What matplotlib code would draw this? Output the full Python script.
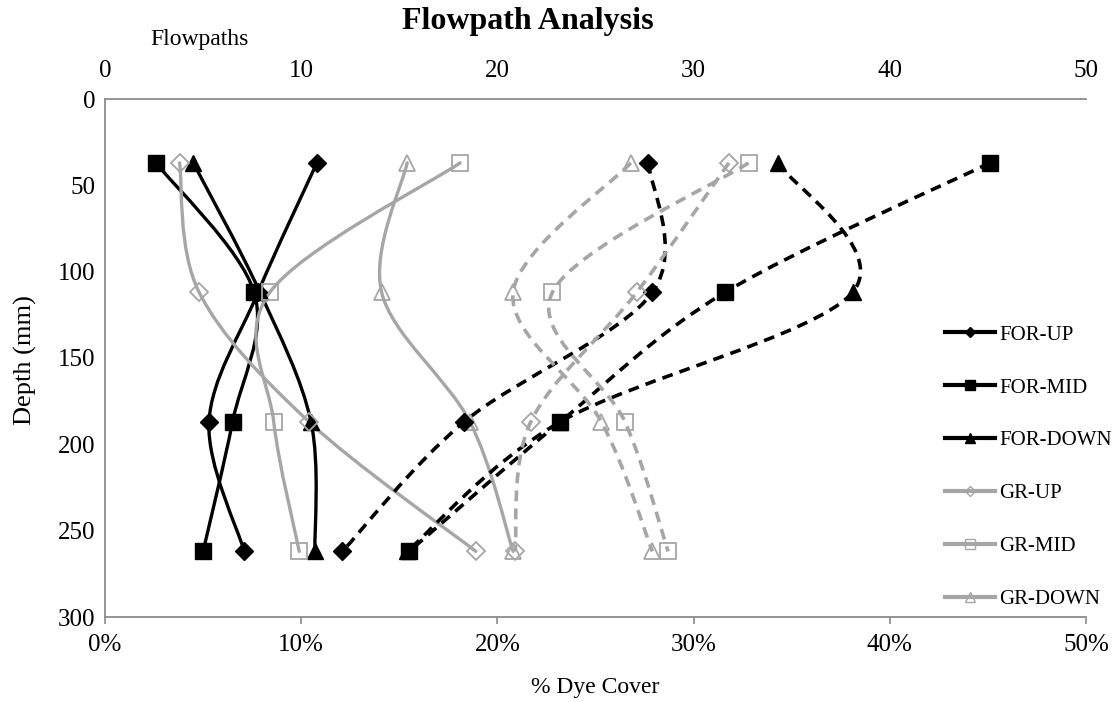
import matplotlib
matplotlib.use("Agg")
import matplotlib.pyplot as plt
from matplotlib.path import Path
from matplotlib.patches import PathPatch
from matplotlib.lines import Line2D
from matplotlib.ticker import FuncFormatter

# --- data ---
depth = [37, 112, 187, 262]

# flowpaths (solid lines, top axis)
fp_for_up = [10.8, 7.8, 5.3, 7.1]
fp_for_mid = [2.6, 7.6, 6.5, 5.0]
fp_for_down = [4.5, 7.9, 10.5, 10.7]
fp_gr_up = [3.8, 4.8, 10.4, 18.9]
fp_gr_mid = [18.1, 8.4, 8.6, 9.9]
fp_gr_down = [15.4, 14.1, 18.6, 20.8]

# % dye cover (dashed lines, bottom axis)
dc_for_up = [27.7, 27.9, 18.3, 12.1]
dc_for_mid = [45.1, 31.6, 23.2, 15.5]
dc_for_down = [34.3, 38.1, 23.2, 15.4]
dc_gr_up = [31.8, 27.1, 21.7, 20.9]
dc_gr_mid = [32.8, 22.8, 26.5, 28.7]
dc_gr_down = [26.8, 20.8, 25.3, 27.9]

labels = ["FOR-UP", "FOR-MID", "FOR-DOWN", "GR-UP", "GR-MID", "GR-DOWN"]
x_ticks = [0, 10, 20, 30, 40, 50]
y_ticks = [0, 50, 100, 150, 200, 250, 300]

BLACK = "#000000"
GRAY = "#a6a6a6"

plt.rcParams['font.family'] = ['Liberation Serif', 'DejaVu Serif']


def smooth_path(xs, ys):
    # Excel-like smoothed line (cubic bezier through the points)
    pts = list(zip(xs, ys))
    n = len(pts)
    verts = [pts[0]]
    codes = [Path.MOVETO]
    for i in range(n - 1):
        p0 = pts[i - 1] if i > 0 else pts[i]
        p1 = pts[i]
        p2 = pts[i + 1]
        p3 = pts[i + 2] if i + 2 < n else pts[i + 1]
        c1 = (p1[0] + (p2[0] - p0[0]) / 6, p1[1] + (p2[1] - p0[1]) / 6)
        c2 = (p2[0] - (p3[0] - p1[0]) / 6, p2[1] - (p3[1] - p1[1]) / 6)
        verts += [c1, c2, p2]
        codes += [Path.CURVE4] * 3
    return Path(verts, codes)


styles = [
    dict(color=BLACK, marker="D", ms=9, mfc=BLACK, mec=BLACK, mew=1),
    dict(color=BLACK, marker="s", ms=11, mfc=BLACK, mec=BLACK, mew=1),
    dict(color=BLACK, marker="^", ms=12, mfc=BLACK, mec=BLACK, mew=1),
    dict(color=GRAY, marker="D", ms=9, mfc="none", mec=GRAY, mew=1.3),
    dict(color=GRAY, marker="s", ms=11, mfc="none", mec=GRAY, mew=1.3),
    dict(color=GRAY, marker="^", ms=12, mfc="none", mec=GRAY, mew=1.3),
]

fig = plt.figure(figsize=(11.15, 7.02), dpi=100)
ax = fig.add_axes([105 / 1115, 1 - 617 / 702, 981 / 1115, 518 / 702])

solid = [fp_for_up, fp_for_mid, fp_for_down, fp_gr_up, fp_gr_mid, fp_gr_down]
dashed = [dc_for_up, dc_for_mid, dc_for_down, dc_gr_up, dc_gr_mid, dc_gr_down]

for vals, st in zip(solid, styles):
    ax.add_patch(PathPatch(smooth_path(vals, depth), fill=False, edgecolor=st["color"],
                           lw=2.4, zorder=2, capstyle="round", joinstyle="round"))
    ax.plot(vals, depth, ls="none", marker=st["marker"], ms=st["ms"], mfc=st["mfc"],
            mec=st["mec"], mew=st["mew"], zorder=3)

for vals, st in zip(dashed, styles):
    ax.add_patch(PathPatch(smooth_path(vals, depth), fill=False, edgecolor=st["color"],
                           lw=2.6, ls=(0, (3, 2)), zorder=2))
    ax.plot(vals, depth, ls="none", marker=st["marker"], ms=st["ms"], mfc=st["mfc"],
            mec=st["mec"], mew=st["mew"], zorder=3)

ax.set_xlim(0, 50)
ax.set_ylim(300, 0)
ax.set_xticks(x_ticks)
ax.set_yticks(y_ticks)
ax.xaxis.set_major_formatter(FuncFormatter(lambda v, p: f"{v:.0f}%"))

ax.spines["right"].set_visible(False)
for side in ["left", "bottom", "top"]:
    ax.spines[side].set_color("#8c8c8c")
    ax.spines[side].set_linewidth(1.3)

ax.tick_params(axis="x", direction="out", length=5, width=1.2, color="#8c8c8c",
               labelsize=18, pad=7)
ax.tick_params(axis="y", length=0, labelsize=18, pad=7)

top = ax.secondary_xaxis("top")
top.set_xticks(x_ticks)
top.tick_params(length=0, labelsize=18, pad=12)
top.spines["top"].set_visible(False)

fig.text(528 / 1115, 1 - 22 / 702, "Flowpath Analysis", ha="center", va="center",
         fontsize=23, fontweight="bold")
fig.text(200 / 1115, 1 - 40 / 702, "Flowpaths", ha="center", va="center", fontsize=17)
fig.text(595 / 1115, 1 - 688 / 702, "% Dye Cover", ha="center", va="center", fontsize=17)
fig.text(25 / 1115, 1 - 360 / 702, "Depth (mm)", ha="center", va="center",
         fontsize=19, rotation=90)

handles = []
for lab, st in zip(labels, styles):
    handles.append(Line2D([], [], color=st["color"], lw=3, marker=st["marker"],
                          ms=st["ms"] * 0.6, mfc=st["mfc"], mec=st["mec"], mew=1,
                          label=lab))
fig.legend(handles=handles, loc="upper left", bbox_to_anchor=(945 / 1115, 1 - 325 / 702),
           frameon=False, fontsize=15, labelspacing=1.6, handlelength=2.4,
           handletextpad=0.2, borderpad=0, borderaxespad=0)

fig.savefig("out.png", dpi=100)
